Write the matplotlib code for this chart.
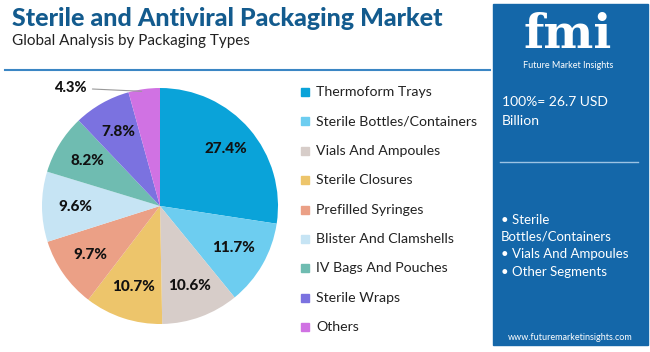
import matplotlib.pyplot as plt
from matplotlib.patches import Rectangle
import numpy as np

# chart data
segments = ['Thermoform Trays', 'Sterile Bottles/Containers', 'Vials And Ampoules',
            'Sterile Closures', 'Prefilled Syringes', 'Blister And Clamshells',
            'IV Bags And Pouches', 'Sterile Wraps', 'Others']
shares = [27.4, 11.7, 10.6, 10.7, 9.7, 9.6, 8.2, 7.8, 4.3]
colors = ['#0aa3d9', '#6dcdf0', '#d7cdc9', '#edc56b', '#eba086',
          '#c6e4f4', '#6fbcb1', '#7b72e0', '#d072e3']

title = 'Sterile and Antiviral Packaging Market'
subtitle = 'Global Analysis by Packaging Types'
total_text = '100%= 26.7 USD\nBillion'
key_segments = ['• Sterile\nBottles/Containers', '• Vials And Ampoules', '• Other Segments']

plt.rcParams['font.family'] = ['Lato', 'DejaVu Sans']

W, H = 650, 352
fig = plt.figure(figsize=(6.5, 3.52), dpi=100)
fig.patch.set_facecolor('white')

# header
fig.text(12 / W, 1 - 18 / H, title, fontsize=18, fontweight='black', color='#135b8e', va='center')
fig.text(12 / W, 1 - 41 / H, subtitle, fontsize=11, color='#222222', va='center')
fig.add_artist(plt.Line2D([5 / W, 490 / W], [1 - 70 / H, 1 - 70 / H], color='#3b86c4', lw=1.5))

# pie
cx, cy, r = 160, 206, 118
ax = fig.add_axes([(cx - r) / W, 1 - (cy + r) / H, 2 * r / W, 2 * r / H])
wedges, _ = ax.pie(shares, colors=colors, startangle=90, counterclock=False,
                   wedgeprops=dict(linewidth=0))
ax.set_aspect('equal')
ax.set_xlim(-1, 1)
ax.set_ylim(-1, 1)
for w, s in zip(wedges, shares):
    ang = np.deg2rad((w.theta1 + w.theta2) / 2)
    if s < 5:
        x, y = np.cos(ang), np.sin(ang)
        ax.annotate(f'{s}%', xy=(x * 0.98, y * 0.98), xytext=(-0.62, 1.0),
                    fontsize=10.5, fontweight='black', ha='right', va='center', color='#111111',
                    arrowprops=dict(arrowstyle='-', color='#999999', lw=0.8), annotation_clip=False)
        continue
    rr = 0.74 if s > 20 else 0.72
    ax.text(np.cos(ang) * rr, np.sin(ang) * rr, f'{s}%', fontsize=11, fontweight='black',
            ha='center', va='center', color='#111111')

# legend
for i, (name, c) in enumerate(zip(segments, colors)):
    y = 92 + i * 29.4
    fig.add_artist(Rectangle((301 / W, 1 - (y + 4) / H), 8 / W, 8 / H, color=c))
    fig.text(316 / W, 1 - y / H, name, fontsize=10.2, color='#222222', va='center')

# right panel
fig.add_artist(Rectangle((493 / W, 1 - 345 / H), 155 / W, 341 / H, color='#1467a9'))
fig.text(568 / W, 1 - 48 / H, 'fmi', fontsize=34, fontweight='bold', family='DejaVu Serif',
         color='white', ha='center', va='baseline')
fig.text(568 / W, 1 - 65 / H, 'Future Market Insights', fontsize=6.5, color='white',
         ha='center', va='center')
fig.text(502 / W, 1 - 112 / H, total_text, fontsize=10, color='white', va='center',
         linespacing=1.7)
fig.add_artist(plt.Line2D([500 / W, 638 / W], [1 - 162 / H, 1 - 162 / H], color='#9cc3e4', lw=1))
fig.text(501 / W, 1 - 228 / H, key_segments[0], fontsize=9.5, color='white', va='center',
         linespacing=1.5)
fig.text(501 / W, 1 - 254 / H, key_segments[1], fontsize=9.5, color='white', va='center')
fig.text(501 / W, 1 - 272 / H, key_segments[2], fontsize=9.5, color='white', va='center')
fig.text(570 / W, 1 - 337 / H, 'www.futuremarketinsights.com', fontsize=6.5, color='white',
         ha='center', va='center')

fig.savefig('out.png', dpi=100)
